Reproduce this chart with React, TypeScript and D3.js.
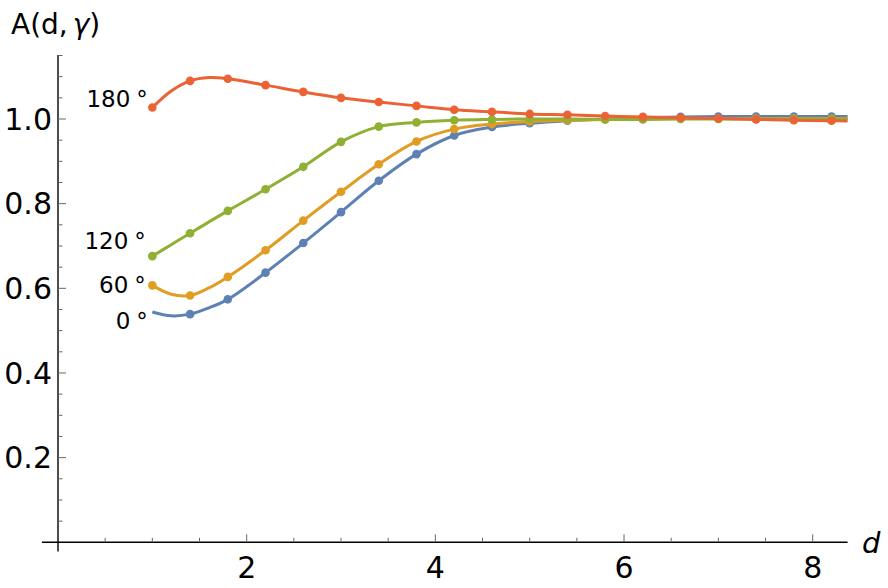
import React from "react";
import * as d3 from "d3";

// ---- data ----
const lineX = [1.0, 1.2, 1.4, 1.6, 1.8, 2.2, 2.6, 3.0, 3.4, 3.8, 4.2, 4.6, 5.0, 5.4, 5.8, 6.2, 6.6, 7.0, 7.4, 7.8, 8.2, 8.37];
const markerX = [1.0, 1.4, 1.8, 2.2, 2.6, 3.0, 3.4, 3.8, 4.2, 4.6, 5.0, 5.4, 5.8, 6.2, 6.6, 7.0, 7.4, 7.8, 8.2];

const series0 = [0.544, 0.535, 0.539, 0.554, 0.574, 0.637, 0.707, 0.780, 0.854, 0.917, 0.961, 0.981, 0.990, 0.996, 1.000, 1.003, 1.005, 1.006, 1.006, 1.006, 1.006, 1.006];
const series60 = [0.607, 0.586, 0.583, 0.601, 0.627, 0.690, 0.760, 0.828, 0.893, 0.947, 0.976, 0.988, 0.994, 0.997, 0.999, 1.000, 1.001, 1.001, 1.001, 1.001, 1.001, 1.001];
const series120 = [0.676, 0.703, 0.730, 0.757, 0.783, 0.834, 0.887, 0.946, 0.982, 0.992, 0.997, 0.999, 1.000, 1.000, 0.999, 0.999, 1.000, 1.000, 1.000, 1.000, 1.000, 1.000];
const series180 = [1.027, 1.066, 1.090, 1.098, 1.095, 1.080, 1.064, 1.050, 1.040, 1.031, 1.022, 1.017, 1.012, 1.010, 1.007, 1.005, 1.003, 1.001, 0.999, 0.997, 0.996, 0.995];

const seriesLabels = ["0", "60", "120", "180"];
const markerStart = [1.4, 1.0, 1.0, 1.0];

const xMajorTicks = [2, 4, 6, 8];
const yMajorTicks = [0.2, 0.4, 0.6, 0.8, 1.0];

// ---- styles ----
const colors = ["#5E81B5", "#E19C24", "#8FB032", "#EB6235"];
// label offsets relative to the first point (right edge of number, baseline)
const labelOffsets = [
  { dx: -22, dy: 17 },
  { dx: -24, dy: 8 },
  { dx: -24, dy: -7 },
  { dx: -22, dy: -1 },
];

const W = 888;
const H = 588;
const FONT = "'DejaVu Sans', sans-serif";

export default function App() {
  const x = d3.scaleLinear().domain([0, 8]).range([58, 812.7]);
  const y = d3.scaleLinear().domain([0, 1]).range([542.3, 119]);
  const xMin = -0.17, xMax = 8.37, yMin = -0.022, yMax = 1.151;

  const allSeries = [series0, series60, series120, series180];
  const line = d3
    .line<number>()
    .x((_, i) => x(lineX[i]))
    .y((v) => y(v))
    .curve(d3.curveCatmullRom.alpha(0.5));

  const xMinor = d3.range(0.5, xMax, 0.5).filter((v) => !xMajorTicks.some((m) => Math.abs(m - v) < 1e-6));
  const yMinor = d3.range(0.05, yMax + 0.001, 0.05).filter((v) => !yMajorTicks.some((m) => Math.abs(m - v) < 1e-6));

  return (
    <svg width={W} height={H} style={{ position: "absolute", left: 0, top: 0, background: "#fff" }}>
      {/* axes */}
      <line x1={x(xMin)} x2={x(xMax)} y1={y(0)} y2={y(0)} stroke="#000" strokeWidth={1.4} />
      <line x1={x(0)} x2={x(0)} y1={y(yMin)} y2={y(yMax)} stroke="#000" strokeWidth={1.4} />
      {/* x ticks */}
      {xMinor.map((v) => (
        <line key={"xm" + v} x1={x(v)} x2={x(v)} y1={y(0)} y2={y(0) - 4.5} stroke="#666" strokeWidth={1} />
      ))}
      {xMajorTicks.map((v) => (
        <g key={"xM" + v}>
          <line x1={x(v)} x2={x(v)} y1={y(0)} y2={y(0) - 8} stroke="#666" strokeWidth={1} />
          <text x={x(v)} y={y(0) + 36} textAnchor="middle" fontFamily={FONT} fontSize={30} fill="#000">
            {d3.format("d")(v)}
          </text>
        </g>
      ))}
      {/* y ticks */}
      {yMinor.map((v) => (
        <line key={"ym" + v} x1={x(0)} x2={x(0) + 4.5} y1={y(v)} y2={y(v)} stroke="#666" strokeWidth={1} />
      ))}
      {yMajorTicks.map((v) => (
        <g key={"yM" + v}>
          <line x1={x(0)} x2={x(0) + 8} y1={y(v)} y2={y(v)} stroke="#666" strokeWidth={1} />
          <text x={x(0) - 6} y={y(v)} dy="0.36em" textAnchor="end" fontFamily={FONT} fontSize={30} fill="#000">
            {d3.format(".1f")(v)}
          </text>
        </g>
      ))}
      {/* axis labels */}
      <text x={11} y={34} fontFamily={FONT} fontSize={28} fill="#000">
        A(d,<tspan dx={5} fontStyle="italic">γ</tspan>)
      </text>
      <text x={862} y={553} fontFamily={FONT} fontSize={29} fontStyle="italic" fill="#000">
        d
      </text>

      {/* series */}
      {allSeries.map((s, si) => (
        <g key={"s" + si}>
          <path d={line(s) || ""} fill="none" stroke={colors[si]} strokeWidth={3} strokeLinejoin="round" />
          {markerX
            .filter((mx) => mx >= markerStart[si] - 1e-6)
            .map((mx) => {
              const idx = lineX.findIndex((lx) => Math.abs(lx - mx) < 1e-6);
              return <circle key={mx} cx={x(mx)} cy={y(s[idx])} r={4.3} fill={colors[si]} />;
            })}
        </g>
      ))}

      {/* series labels */}
      {allSeries.map((s, si) => {
        const lx = x(lineX[0]) + labelOffsets[si].dx;
        const ly = y(s[0]) + labelOffsets[si].dy;
        return (
          <g key={"l" + si}>
            <text x={lx} y={ly} textAnchor="end" fontFamily={FONT} fontSize={23} fill="#000">
              {seriesLabels[si]}
            </text>
            <text x={lx + 6} y={ly} fontFamily={FONT} fontSize={23} fill="#000">
              °
            </text>
          </g>
        );
      })}
    </svg>
  );
}
